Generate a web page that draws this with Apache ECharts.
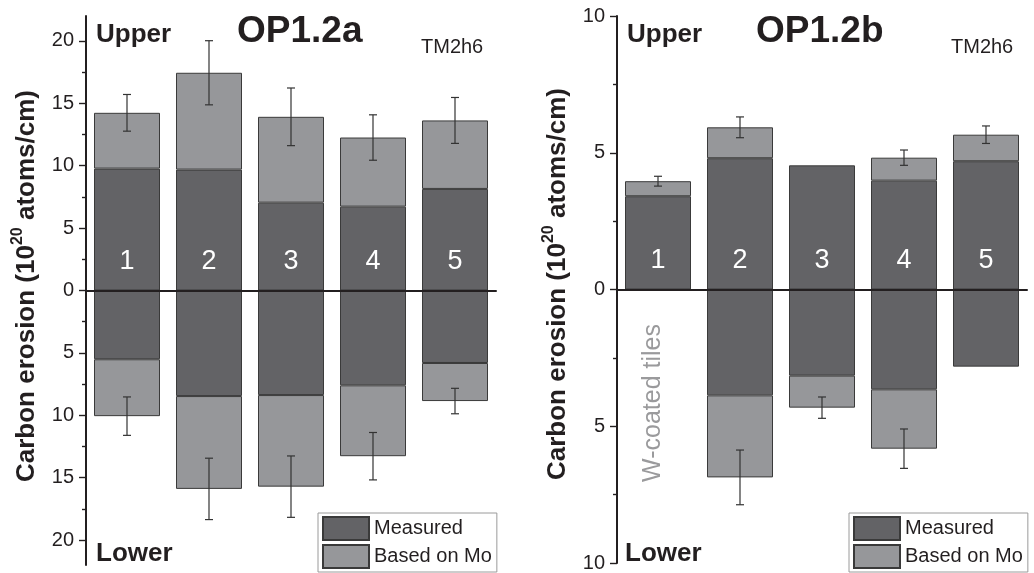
<!DOCTYPE html>
<html>
<head>
<meta charset="utf-8">
<script src="https://cdn.jsdelivr.net/npm/echarts@6/dist/echarts.min.js"></script>
<style>
html,body{margin:0;padding:0;background:#fff;}
#chart{width:1034px;height:573px;}
</style>
</head>
<body>
<div id="chart"></div>
<script>
// ---------- data ----------
var categories = ['1', '2', '3', '4', '5'];
var seriesNames = ['Measured', 'Based on Mo'];

// OP1.2a (left panel)
var aUpperMeasured = [9.77, 9.69, 7.04, 6.72, 8.14];
var aUpperTotal    = [14.24, 17.45, 13.92, 12.26, 13.63];
var aUpperErr      = [1.47, 2.57, 2.31, 1.82, 1.84];
var aLowerMeasured = [5.51, 8.46, 8.38, 7.60, 5.81];
var aLowerTotal    = [10.07, 15.90, 15.72, 13.28, 8.86];
var aLowerErr      = [1.54, 2.46, 2.46, 1.90, 1.02];

// OP1.2b (right panel)
var bUpperMeasured = [3.41, 4.80, 4.54, 3.98, 4.69];
var bUpperTotal    = [3.96, 5.93, null, 4.82, 5.66];
var bUpperErr      = [0.18, 0.38, null, 0.28, 0.32];
var bLowerMeasured = [null, 3.87, 3.15, 3.65, 2.82];
var bLowerTotal    = [null, 6.87, 4.32, 5.82, null];
var bLowerErr      = [null, 1.00, 0.39, 0.72, null];

var aMajorTicks = [-20, -15, -10, -5, 0, 5, 10, 15, 20];
var aMinorTicks = [-17.5, -12.5, -7.5, -2.5, 2.5, 7.5, 12.5, 17.5];
var bMajorTicks = [-10, -5, 0, 5, 10];
var bMinorTicks = [-7.5, -2.5, 2.5, 7.5];

// ---------- style ----------
var FONT = "'Liberation Sans', Arial, Helvetica, sans-serif";
var DARK = '#636366';
var LIGHT = '#96979a';
var EDGE = '#3a3a3a';
var INK = '#231f20';

function incr(total, meas, sign) {
  return total.map(function (t, i) {
    if (t == null) return null;
    return sign * (t - (meas[i] || 0));
  });
}
function signed(arr, sign) {
  return arr.map(function (v) { return v == null ? null : sign * v; });
}
function errData(total, err, sign) {
  var out = [];
  total.forEach(function (t, i) {
    if (t != null && err[i] != null) out.push([i, sign * t, err[i]]);
  });
  return out;
}

function barSeries(name, data, gi, color, withLabel) {
  var s = {
    type: 'bar', name: name, data: data, stack: 'st' + gi,
    xAxisIndex: gi, yAxisIndex: gi * 2, barWidth: 66,
    itemStyle: { color: color, borderColor: EDGE, borderWidth: 1 },
    z: 2
  };
  if (withLabel) {
    s.label = {
      show: true, position: 'insideBottom', distance: 15,
      formatter: function (p) { return p.name; },
      color: '#fff', fontSize: 27, fontFamily: FONT
    };
  }
  return s;
}

function errSeries(data, gi) {
  return {
    type: 'custom', xAxisIndex: gi, yAxisIndex: gi * 2, z: 5,
    data: data, encode: { x: 0, y: 1 },
    renderItem: function (params, api) {
      var x = api.value(0), c = api.value(1), e = api.value(2);
      var p1 = api.coord([x, c + e]);
      var p2 = api.coord([x, c - e]);
      var st = { stroke: '#333', lineWidth: 1.2 };
      var hw = 4;
      return {
        type: 'group',
        children: [
          { type: 'line', shape: { x1: p1[0], y1: p1[1], x2: p2[0], y2: p2[1] }, style: st },
          { type: 'line', shape: { x1: p1[0] - hw, y1: p1[1], x2: p1[0] + hw, y2: p1[1] }, style: st },
          { type: 'line', shape: { x1: p2[0] - hw, y1: p2[1], x2: p2[0] + hw, y2: p2[1] }, style: st }
        ]
      };
    }
  };
}

function xAxisDef(gi) {
  return {
    type: 'category', gridIndex: gi, data: categories,
    axisLine: { onZero: true, lineStyle: { color: INK, width: 2 } },
    axisTick: { show: false }, axisLabel: { show: false }, splitLine: { show: false },
    z: 10
  };
}
function yAxisMajor(gi, mn, mx, ticks) {
  return {
    type: 'value', gridIndex: gi, min: mn, max: mx, position: 'left',
    axisLine: { show: true, onZero: false, lineStyle: { color: INK, width: 2 } },
    axisTick: { show: true, length: 7, customValues: ticks, lineStyle: { color: INK, width: 1.4 } },
    axisLabel: {
      show: true, customValues: ticks, margin: 12,
      formatter: function (v) { return String(Math.abs(v)); },
      color: INK, fontSize: 20, fontFamily: FONT
    },
    splitLine: { show: false }, z: 10
  };
}
function yAxisMinor(gi, mn, mx, ticks) {
  return {
    type: 'value', gridIndex: gi, min: mn, max: mx, position: 'left', offset: 0,
    axisLine: { show: false, onZero: false },
    axisTick: { show: true, length: 4, customValues: ticks, lineStyle: { color: INK, width: 1.4 } },
    axisLabel: { show: false }, splitLine: { show: false }
  };
}

function txt(x, y, s, size, weight, color) {
  return {
    type: 'text', x: x, y: y, z: 20,
    style: {
      text: s, fontSize: size, fontWeight: weight, fontFamily: FONT,
      fill: color, align: 'left', verticalAlign: 'bottom'
    }
  };
}
function yTitle(cx, cy) {
  return {
    type: 'text', x: cx, y: cy, rotation: Math.PI / 2, z: 20,
    style: {
      text: '{m|Carbon erosion (10}{s|20}{m| atoms/cm)}',
      align: 'center', verticalAlign: 'middle', fill: INK,
      rich: {
        m: { fontSize: 26, fontWeight: 'bold', fontFamily: FONT, fill: INK, lineHeight: 30, verticalAlign: 'bottom' },
        s: { fontSize: 16, fontWeight: 'bold', fontFamily: FONT, fill: INK, lineHeight: 30, verticalAlign: 'top' }
      }
    }
  };
}

function legendDef(left) {
  return {
    data: seriesNames, orient: 'vertical', left: left, top: 513,
    itemWidth: 46, itemHeight: 23, itemGap: 3,
    padding: [3, 5, 3, 4],
    borderColor: '#9a9a9a', borderWidth: 1,
    icon: 'rect',
    textStyle: { fontSize: 20, fontFamily: FONT, color: INK },
    selectedMode: false
  };
}

var option = {
  animation: false,
  backgroundColor: '#fff',
  grid: [
    { left: 86, top: 16, width: 410, height: 549 },
    { left: 617, top: 16, width: 410, height: 549 }
  ],
  xAxis: [xAxisDef(0), xAxisDef(1)],
  yAxis: [
    yAxisMajor(0, -22, 22, aMajorTicks), yAxisMinor(0, -22, 22, aMinorTicks),
    yAxisMajor(1, -10, 10, bMajorTicks), yAxisMinor(1, -10, 10, bMinorTicks)
  ],
  legend: [legendDef(318), legendDef(849)],
  series: [
    barSeries('Measured', aUpperMeasured, 0, DARK, true),
    barSeries('Based on Mo', incr(aUpperTotal, aUpperMeasured, 1), 0, LIGHT, false),
    barSeries('Measured', signed(aLowerMeasured, -1), 0, DARK, false),
    barSeries('Based on Mo', incr(aLowerTotal, aLowerMeasured, -1), 0, LIGHT, false),
    errSeries(errData(aUpperTotal, aUpperErr, 1), 0),
    errSeries(errData(aLowerTotal, aLowerErr, -1), 0),

    barSeries('Measured', bUpperMeasured, 1, DARK, true),
    barSeries('Based on Mo', incr(bUpperTotal, bUpperMeasured, 1), 1, LIGHT, false),
    barSeries('Measured', signed(bLowerMeasured, -1), 1, DARK, false),
    barSeries('Based on Mo', incr(bLowerTotal, bLowerMeasured, -1), 1, LIGHT, false),
    errSeries(errData(bUpperTotal, bUpperErr, 1), 1),
    errSeries(errData(bLowerTotal, bLowerErr, -1), 1)
  ],
  graphic: [
    txt(96, 48, 'Upper', 26, 'bold', INK),
    txt(237, 50, 'OP1.2a', 37, 'bold', INK),
    txt(421, 57, 'TM2h6', 20, 'normal', INK),
    txt(96, 567, 'Lower', 26, 'bold', INK),
    txt(627, 48, 'Upper', 26, 'bold', INK),
    txt(756, 50, 'OP1.2b', 37, 'bold', INK),
    txt(951, 57, 'TM2h6', 20, 'normal', INK),
    txt(625, 567, 'Lower', 26, 'bold', INK),
    {
      type: 'text', x: 653, y: 403, rotation: Math.PI / 2, z: 20,
      style: { text: 'W-coated tiles', fontSize: 25, fontFamily: FONT, fill: '#9a9a9c', align: 'center', verticalAlign: 'middle' }
    },
    yTitle(25, 286),
    yTitle(556, 284)
  ]
};

var chart = echarts.init(document.getElementById('chart'), null, { renderer: 'canvas' });
chart.setOption(option);
</script>
</body>
</html>
